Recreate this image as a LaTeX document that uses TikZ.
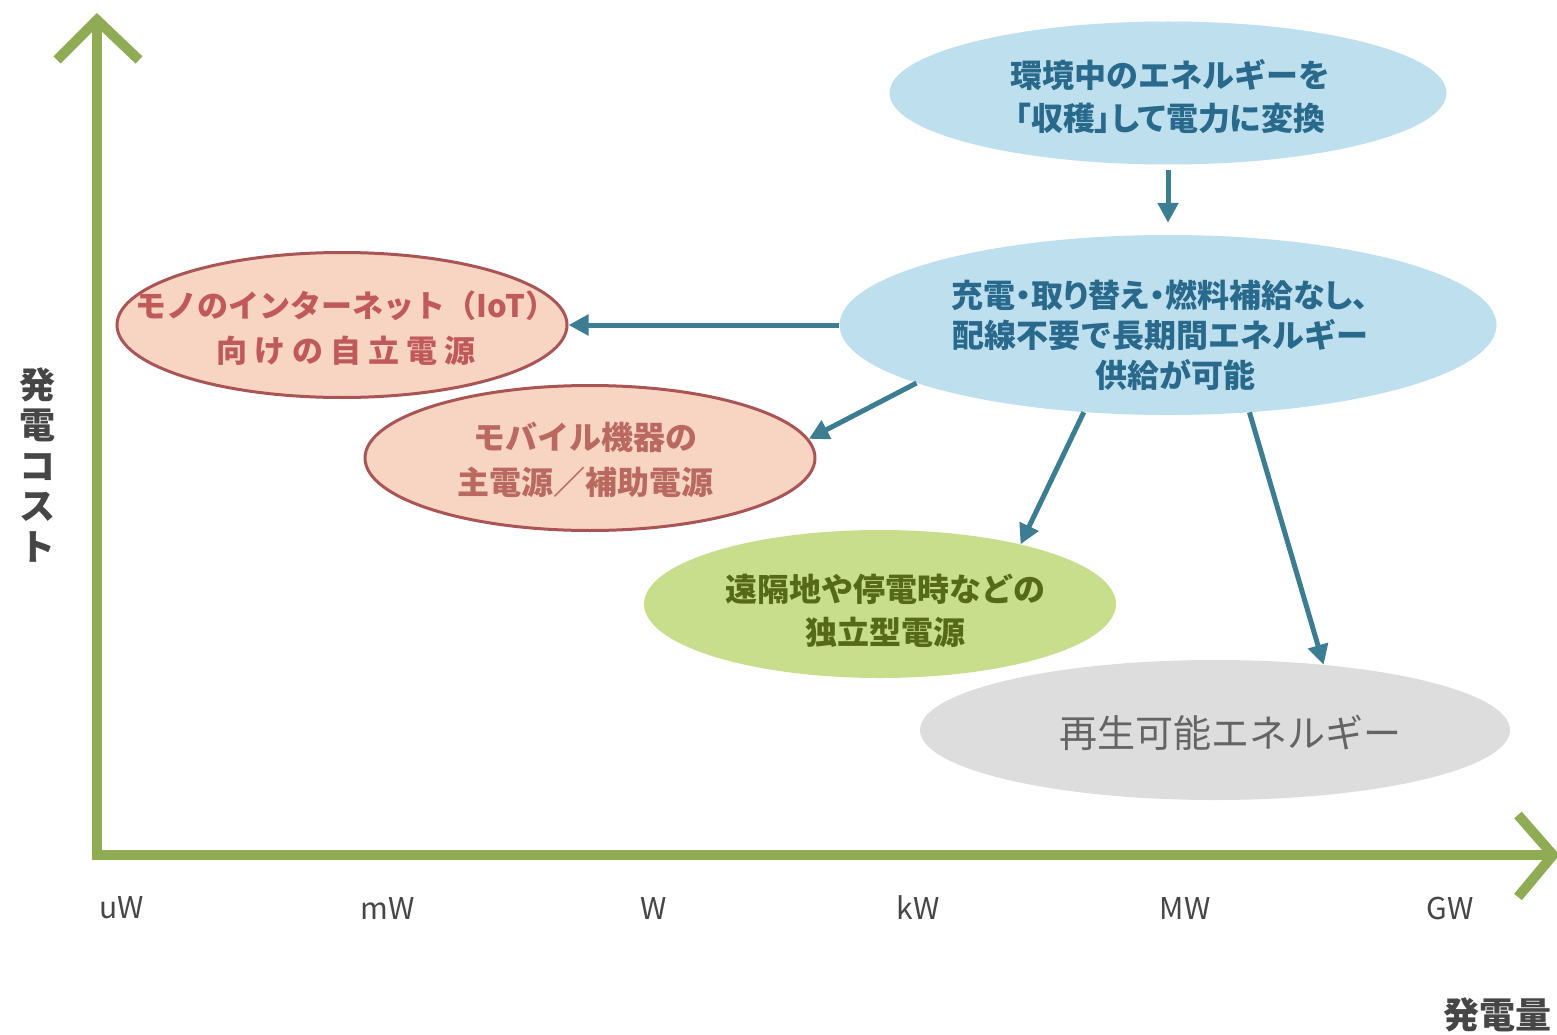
\documentclass[tikz,border=0pt]{standalone}
\usepackage{fontspec}
\setmainfont{Noto Sans CJK JP}
\newfontfamily\pal[RawFeature=+palt]{Noto Sans CJK JP}
\newfontfamily\spaced[LetterSpace=23]{Noto Sans CJK JP}
\usetikzlibrary{shapes.geometric,arrows.meta}
\definecolor{axisgreen}{RGB}{143,171,84}
\definecolor{bluefill}{RGB}{190,223,237}
\definecolor{bluetext}{RGB}{40,105,140}
\definecolor{arrowteal}{RGB}{60,125,145}
\definecolor{peachfill}{RGB}{248,212,195}
\definecolor{peachline}{RGB}{170,85,85}
\definecolor{iottext}{RGB}{192,90,90}
\definecolor{mobtext}{RGB}{185,105,95}
\definecolor{greenfill}{RGB}{200,222,140}
\definecolor{greentext}{RGB}{85,105,25}
\definecolor{grayfill}{RGB}{221,221,221}
\definecolor{graytext}{RGB}{100,100,100}
\definecolor{ticktext}{RGB}{70,70,70}
\tikzset{
  blob/.style={ellipse, inner sep=0pt, draw=none},
  lbl/.style={align=center, inner sep=0pt, font=\bfseries\fontsize{32}{43}\selectfont},
  link/.style={draw=arrowteal, line width=5pt, -{Triangle[length=20pt,width=20pt]}},
  axisline/.style={draw=axisgreen, line width=10pt},
  tick/.style={text=ticktext, inner sep=0pt, font=\fontsize{30}{30}\selectfont}
}
\begin{document}
\begin{tikzpicture}[x=1pt,y=-1pt]
\useasboundingbox (0,0) rectangle (1557,1035);
\clip (0,0) rectangle (1557,1035);
\fill[white] (0,0) rectangle (1557,1035);

% axes
\coordinate (o) at (97,855);
\coordinate (ytop) at (97,20);
\coordinate (xend) at (1553,855);
\coordinate (ya) at (57,60);
\coordinate (yb) at (139,60);
\coordinate (xa) at (1518,815);
\coordinate (xb) at (1518,897);
\draw[axisline] (ytop) -- (o) -- (xend);
\draw[axisline, line join=miter] (ya) -- (ytop) -- (yb);
\draw[axisline, line join=miter] (xa) -- (xend) -- (xb);

% axis labels
\node[text=ticktext, font=\bfseries\fontsize{36}{40.5}\selectfont, align=center, inner sep=0pt] (ylab) at (37,465) {発\\電\\コ\\ス\\ト};
\node[text=ticktext, font=\bfseries\fontsize{36}{36}\selectfont, inner sep=0pt] (xlab) at (1497,1015) {発電量};
\node[tick] (t1) at (122,908) {uW};
\node[tick] (t2) at (388,908) {mW};
\node[tick] (t3) at (654,908) {W};
\node[tick] (t4) at (918,908) {kW};
\node[tick] (t5) at (1185,908) {MW};
\node[tick] (t6) at (1450,908) {GW};

% ellipses
\node[blob, fill=bluefill, minimum width=557pt, minimum height=143pt] (top) at (1168,93) {};
\node[blob, fill=bluefill, minimum width=657pt, minimum height=180pt] (mid) at (1168,325) {};
\node[blob, fill=peachfill, draw=peachline, line width=3pt, minimum width=450pt, minimum height=145pt] (iot) at (342,325) {};
\node[blob, fill=peachfill, draw=peachline, line width=3pt, minimum width=450pt, minimum height=145pt] (mob) at (590,458) {};
\node[blob, fill=greenfill, minimum width=472pt, minimum height=148pt] (grn) at (880,604) {};
\node[blob, fill=grayfill, minimum width=590pt, minimum height=140pt] (gry) at (1215,730) {};

% texts
\node[lbl, text=bluetext] (toptxt) at (1170,97) {環境中のエネルギーを\\{\pal「収穫」して電力に変換}};
\node[lbl, text=bluetext, font=\bfseries\fontsize{32}{40}\selectfont] (midtxt) at (1160,335) {{\pal 充電・取り替え・燃料補給なし、}\\配線不要で長期間エネルギー\\\hspace*{30pt}供給が可能};
\node[lbl, text=iottext, font=\bfseries\fontsize{31}{45}\selectfont] (iottxt) at (346,328) {モノのインターネット（IoT）\\{\spaced 向けの自立電源}};
\node[lbl, text=mobtext, font=\bfseries\fontsize{32}{45}\selectfont] (mobtxt) at (585,460) {モバイル機器の\\主電源／補助電源};
\node[lbl, text=greentext] (grntxt) at (885,611) {遠隔地や停電時などの\\独立型電源};
\node[lbl, text=graytext, font=\fontsize{38}{40}\selectfont] (grytxt) at (1230,733) {再生可能エネルギー};

% connectors
\draw[link, shorten <=5pt, shorten >=12pt] (top.south) -- (mid.north);
\draw[link] (mid.west) -- (iot.east);
\draw[link] (mid.193.5) -- (mob.5.5);
\draw[link] (mid.226.6) -- (grn.23.9);
\draw[link] (mid.313.7) -- (gry.31.7);
\end{tikzpicture}
\end{document}
